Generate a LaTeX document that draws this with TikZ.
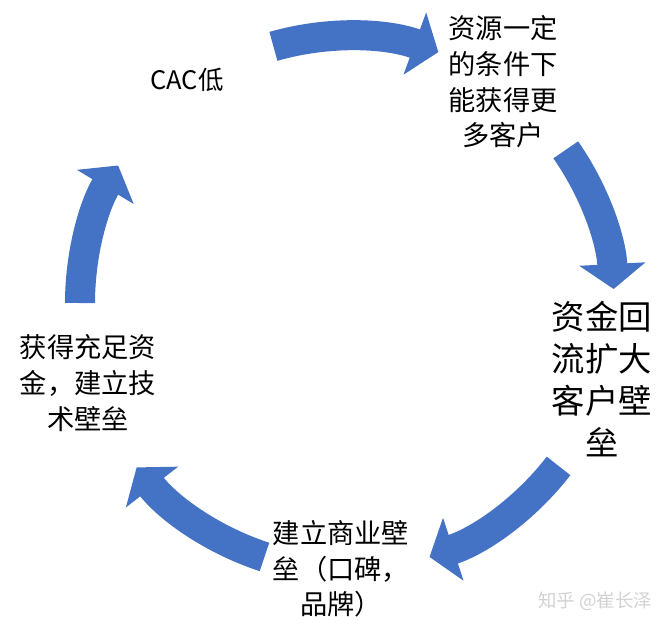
\documentclass[tikz,border=0pt]{standalone}
\usepackage{fontspec}
\newfontfamily\cjk{Noto Sans CJK SC}
\usetikzlibrary{arrows.meta}
\definecolor{cycleblue}{HTML}{4472C4}

\begin{document}
\begin{tikzpicture}[every node/.style={align=center, inner sep=0pt},
			cyclearrow/.style={draw=cycleblue, line width=0.6cm, -{Triangle[length=0.5cm, width=1.3cm]}},
			stage/.style={font=\cjk\fontsize{15.5}{20.3}\selectfont},
			bigstage/.style={font=\cjk\fontsize{19}{23.8}\selectfont}]

		\useasboundingbox (0,0) rectangle (13.4,12.6);

		% stages of the cycle
		\node[stage, font=\cjk\fontsize{14.5}{17}\selectfont] (cac) at (3.74,11.0) {CAC低};
		\node[stage] (res) at (10.06,10.96) {资源一定\\的条件下\\能获得更\\多客户};
		\node[bigstage] (fund) at (12.04,5.02) {资金回\\流扩大\\客户壁\\垒};
		\node[stage] (biz) at (6.82,1.22) {建立商业壁\\垒（口碑，\\品牌）};
		\node[stage] (tech) at (1.76,4.94) {获得充足资\\金，建立技\\术壁垒};

		% arrows round the circle
		\coordinate (o) at (6.94,6.54);
		\path (o) ++(106:5.34) coordinate (a1);
		\path (o) ++(35:5.34) coordinate (a2);
		\path (o) ++(-37.6:5.34) coordinate (a3);
		\path (o) ++(-108:5.34) coordinate (a4);
		\path (o) ++(180:5.34) coordinate (a5);

		\draw[cyclearrow] (a1) arc[start angle=106, end angle=70, radius=5.34];
		\draw[cyclearrow] (a2) arc[start angle=35, end angle=3, radius=5.34];
		\draw[cyclearrow] (a3) arc[start angle=-37.6, end angle=-72, radius=5.34];
		\draw[cyclearrow] (a4) arc[start angle=-108, end angle=-142, radius=5.34];
		\draw[cyclearrow] (a5) arc[start angle=180, end angle=149, radius=5.34];

		\node[font=\cjk\fontsize{10.5}{12}\selectfont, text=gray!35] (mark) at (11.9,0.58) {知乎 @崔长泽};
	\end{tikzpicture}
\end{document}
